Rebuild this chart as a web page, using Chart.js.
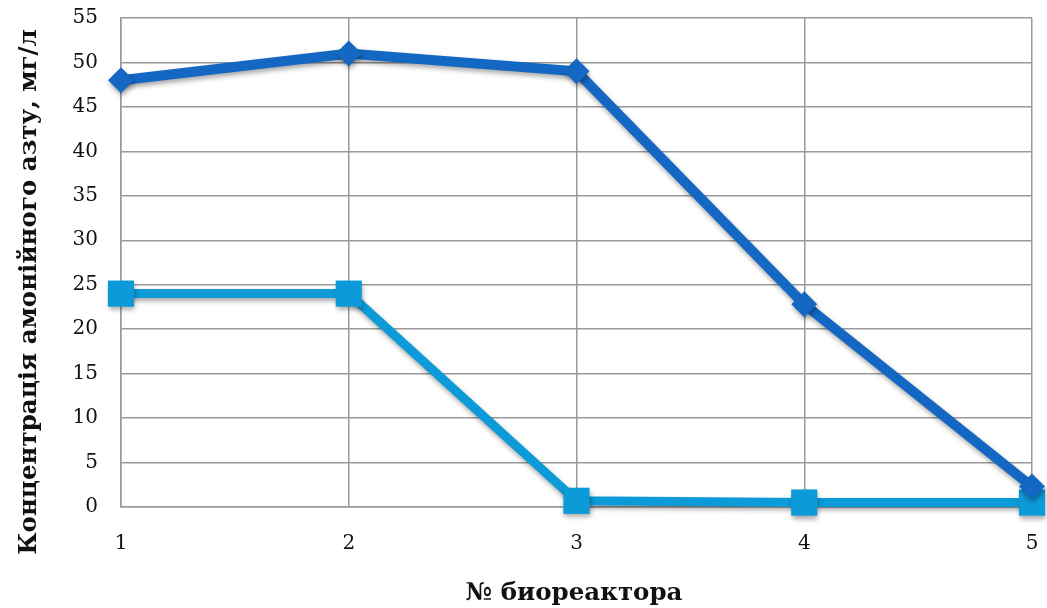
<!DOCTYPE html>
<html><head><meta charset="utf-8">
<script src="https://cdn.jsdelivr.net/npm/chart.js@4"></script>
<style>html,body{margin:0;padding:0;background:#fff}#wrap{width:1047px;height:608px}</style>
</head><body><div id="wrap"><canvas id="c" width="1047" height="608"></canvas></div>
<script>
const categories = ['1', '2', '3', '4', '5'];
const seriesA = [48, 51, 49, 22.8, 2.3];
const seriesB = [24, 24, 0.7, 0.5, 0.5];
const yTicks = [0, 5, 10, 15, 20, 25, 30, 35, 40, 45, 50, 55];
const yTitle = 'Концентрація амонійного азту, мг/л';
const xTitle = '№ биореактора';

const FONT = "'DejaVu Serif', 'Liberation Serif', serif";

const titles = {
  id: 'titles',
  afterDraw(chart) {
    const ctx = chart.ctx;
    ctx.save();
    ctx.fillStyle = '#111';
    ctx.font = "bold 24.5px " + FONT;
    ctx.textAlign = 'center';
    ctx.textBaseline = 'middle';
    ctx.fillText(xTitle, 574, 594);
    ctx.translate(30, 292);
    ctx.rotate(-Math.PI / 2);
    ctx.fillText(yTitle, 0, 0);
    ctx.restore();
  }
};
const shadow = {
  id: 'shadow',
  beforeDatasetsDraw(chart) {
    const ctx = chart.ctx;
    ctx.save();
    ctx.shadowColor = 'rgba(0,0,0,0.35)';
    ctx.shadowBlur = 5;
    ctx.shadowOffsetX = 1;
    ctx.shadowOffsetY = 3;
  },
  afterDatasetsDraw(chart) { chart.ctx.restore(); }
};

new Chart(document.getElementById('c'), {
  type: 'line',
  data: {
    labels: categories,
    datasets: [
      { data: seriesA, borderColor: '#1468c3', backgroundColor: '#1468c3', borderWidth: 10,
        pointStyle: 'rectRot', pointRadius: 13, pointHoverRadius: 13, pointBorderWidth: 0, tension: 0, clip: false },
      { data: seriesB, borderColor: '#0c9bd8', backgroundColor: '#0c9bd8', borderWidth: 9,
        pointStyle: 'rect', pointRadius: 18.5, pointHoverRadius: 18.5, pointBorderWidth: 0, tension: 0, clip: false }
    ]
  },
  options: {
    responsive: false, animation: false, devicePixelRatio: 1,
    layout: { autoPadding: false, padding: { left: 0, right: 15, top: 18, bottom: 0 } },
    plugins: { legend: { display: false }, tooltip: { enabled: false } },
    scales: {
      x: {
        grid: { color: '#9a9a9a', lineWidth: 1.5, drawTicks: false },
        border: { color: '#9a9a9a', width: 1.5 },
        ticks: { color: '#111', font: { family: FONT, size: 20 }, padding: 25, maxRotation: 0 },
        afterFit(s) { s.height = 101; s.paddingLeft = 0; s.paddingRight = 0; }
      },
      y: {
        min: 0, max: 55,
        afterBuildTicks(s) { s.ticks = yTicks.map(v => ({ value: v })); },
        grid: { color: '#9a9a9a', lineWidth: 1.5, drawTicks: false },
        border: { color: '#9a9a9a', width: 1.5 },
        ticks: { color: '#111', font: { family: FONT, size: 20 }, padding: 23 },
        afterFit(s) { s.width = 121; s.paddingTop = 0; s.paddingBottom = 0; }
      }
    }
  },
  plugins: [titles, shadow]
});
</script></body></html>
